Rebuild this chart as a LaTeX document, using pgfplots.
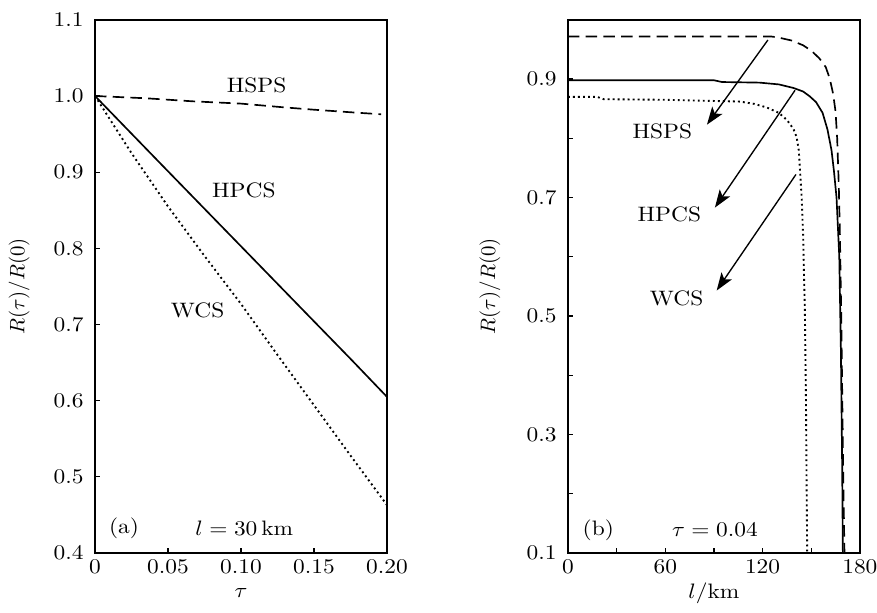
\documentclass[border=0pt]{standalone}
\usepackage{pgfplots}
\pgfplotsset{compat=1.18}
\usetikzlibrary{arrows.meta}
\begin{document}
\begin{tikzpicture}
\useasboundingbox (-45.5pt,-28.3pt) rectangle (374.5pt,264.8pt);
\tikzset{arr/.style={-{Stealth[length=8.5pt,width=6pt,inset=2pt]}, line width=0.65pt, black},
  lab/.style={xscale=1.12}}
\pgfplotsset{
 myaxis/.style={scale only axis, width=139.8pt, height=255.3pt,
   axis line style={line width=0.8pt}, tick align=inside, tick pos=left,
   major tick length=2.2pt, every tick/.style={black, line width=0.6pt},
   every axis y label/.style={at={(axis description cs:-0.26,0.5)}, rotate=90, anchor=center},
   every axis x label/.style={at={(axis description cs:0.5,-0.075)}, anchor=center, xscale=1.12},
   yticklabel style={xshift=-1.5pt, xscale=1.12},
   xticklabel style={xscale=1.12},
   scaled ticks=false},
 hsps/.style={black, line width=0.8pt, dash pattern=on 5.5pt off 3pt},
 hpcs/.style={black, line width=0.8pt},
 wcs/.style={black, line width=0.9pt, dash pattern=on 0.9pt off 1.5pt}
}
\begin{axis}[myaxis, at={(0,0)}, anchor=south west,
  xmin=0, xmax=0.2, ymin=0.4, ymax=1.1,
  xtick={0,0.05,0.1,0.15,0.2}, xticklabels={$0$,$0.05$,$0.10$,$0.15$,$0.20$},
  ytick={0.4,0.5,0.6,0.7,0.8,0.9,1.0,1.1},
  yticklabels={$0.4$,$0.5$,$0.6$,$0.7$,$0.8$,$0.9$,$1.0$,$1.1$},
  xlabel={$\tau$}, ylabel={$R(\tau)/R(0)$}]
\addplot[hsps] coordinates {(0,1.0)(0.035,0.997)(0.067,0.993)(0.1,0.99)(0.13,0.985)(0.15,0.982)(0.18,0.978)(0.196,0.976)};
\addplot[hpcs] coordinates {(0,1.0)(0.044,0.913)(0.078,0.846)(0.11,0.783)(0.145,0.714)(0.176,0.653)(0.2,0.605)};
\addplot[wcs] coordinates {(0,1.0)(0.025,0.925)(0.05,0.855)(0.075,0.79)(0.1,0.727)(0.125,0.66)(0.15,0.594)(0.175,0.528)(0.2,0.463)};
\node[lab] at (axis cs:0.1107,1.0146) {HSPS};
\node[lab] at (axis cs:0.102,0.8756) {HPCS};
\node[lab] at (axis cs:0.0703,0.718) {WCS};
\node[lab] at (axis cs:0.0199,0.432) {(a)};
\node[lab] at (axis cs:0.1023,0.432) {$l=30\,\mathrm{km}$};
\end{axis}
\begin{axis}[myaxis, at={(226.5pt,0)}, anchor=south west,
  xmin=0, xmax=180, ymin=0.1, ymax=1.0,
  xtick={0,30,60,90,120,150,180}, xticklabels={$0$,,$60$,,$120$,,$180$},
  ytick={0.1,0.2,0.3,0.4,0.5,0.6,0.7,0.8,0.9},
  yticklabels={$0.1$,,$0.3$,,$0.5$,,$0.7$,,$0.9$},
  xlabel={$l/\mathrm{km}$}, ylabel={$R(\tau)/R(0)$},
  every axis y label/.style={at={(axis description cs:-0.267,0.5)}, rotate=90, anchor=center}]
\addplot[hsps] coordinates {(0,0.972)(125,0.972)(130,0.970)(138,0.965)(145,0.957)(150,0.948)(155,0.935)(159,0.92)(161.5,0.9)(163.5,0.875)(165,0.845)(166,0.8)(167,0.72)(167.7,0.636)(168.5,0.5)(169.2,0.35)(169.8,0.22)(170.5,0.1)};
\addplot[hpcs] coordinates {(0,0.898)(90,0.898)(95,0.895)(118,0.894)(130,0.891)(139,0.885)(145,0.879)(149,0.871)(153,0.861)(157,0.843)(160,0.815)(162.5,0.78)(164,0.745)(165.6,0.70)(167.3,0.60)(168.3,0.44)(169.1,0.24)(169.5,0.1)};
\addplot[wcs] coordinates {(0,0.87)(18,0.87)(22,0.866)(60,0.865)(106,0.862)(115,0.858)(122.6,0.852)(130,0.843)(135,0.831)(139,0.816)(141,0.802)(142.3,0.78)(143.1,0.745)(144.1,0.7)(145,0.636)(146.1,0.505)(146.7,0.373)(147.5,0.1)};
\draw[arr] (axis cs:123.3,0.966) -- (axis cs:85.7,0.823);
\draw[arr] (axis cs:140,0.881) -- (axis cs:90.6,0.683);
\draw[arr] (axis cs:140.6,0.739) -- (axis cs:91.7,0.543);
\node[lab] at (axis cs:58.2,0.812) {HSPS};
\node[lab] at (axis cs:62.5,0.671) {HPCS};
\node[lab] at (axis cs:67,0.530) {WCS};
\node[lab] at (axis cs:18.7,0.139) {(b)};
\node[lab] at (axis cs:90.6,0.139) {$\tau=0.04$};
\end{axis}
\end{tikzpicture}
\end{document}
